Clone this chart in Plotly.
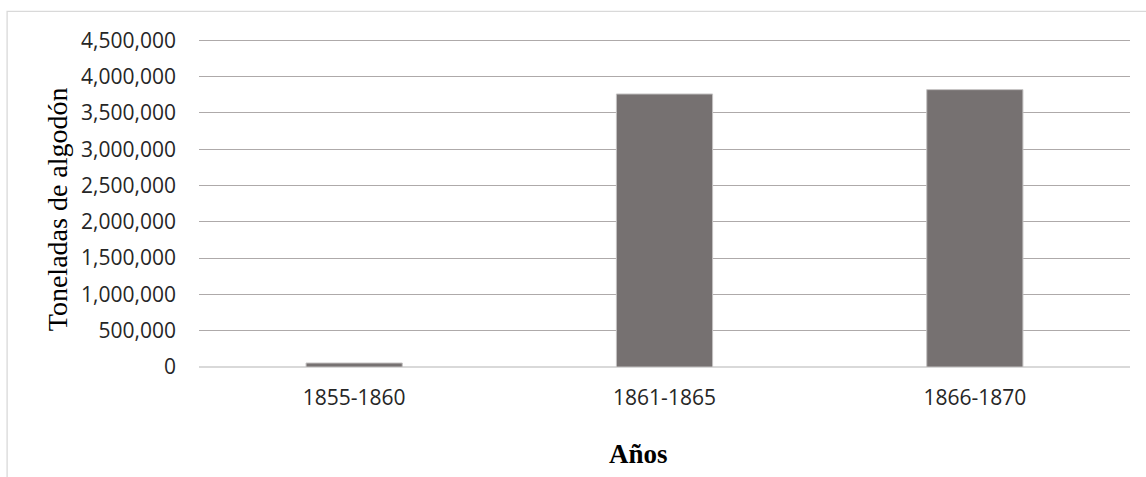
import plotly.graph_objects as go

# Cotton tonnage by period
periods = ["1855-1860", "1861-1865", "1866-1870"]
tonnes = [55000, 3760000, 3820000]
y_ticks = [0, 500000, 1000000, 1500000, 2000000, 2500000, 3000000, 3500000, 4000000, 4500000]
y_tick_text = ["0", "500,000", "1,000,000", "1,500,000", "2,000,000", "2,500,000",
               "3,000,000", "3,500,000", "4,000,000", "4,500,000"]
y_top = 4600000

W, H = 1146, 477
L, R, B = 198.5, 16, 109.5
# keep the 4,500,000 gridline at y = 40.5 px while leaving a little headroom
ph = (H - B - 40.5) * y_top / 4500000
T = H - B - ph
pw = W - L - R


def px_x(px):
    return (px - L) / pw


def px_y(py):
    return (H - B - py) / ph


fig = go.Figure(
    go.Bar(
        x=periods,
        y=tonnes,
        width=0.31,
        marker=dict(color="#767171", line=dict(color="#c4c2c2", width=1)),
    )
)

fig.update_layout(
    width=W,
    height=H,
    margin=dict(l=L, r=R, t=T, b=B),
    paper_bgcolor="white",
    plot_bgcolor="white",
    showlegend=False,
    font=dict(family="Open Sans", size=21, color="#262626"),
    xaxis=dict(
        showgrid=False,
        showline=False,
        zeroline=False,
        ticks="",
        ticklabelstandoff=16,
        tickfont=dict(family="Open Sans", size=21, color="#262626"),
    ),
    yaxis=dict(
        range=[0, y_top],
        tickvals=y_ticks,
        ticktext=y_tick_text,
        showgrid=True,
        gridcolor="#aeaaaa",
        gridwidth=1.4,
        zeroline=True,
        zerolinecolor="#d9d9d9",
        zerolinewidth=1.5,
        showline=False,
        ticks="",
        ticklabelstandoff=22,
        tickfont=dict(family="Open Sans", size=21, color="#262626"),
    ),
    shapes=[
        dict(
            type="rect",
            xref="paper",
            yref="paper",
            x0=px_x(6.5),
            x1=px_x(1160),
            y0=px_y(490),
            y1=px_y(11.5),
            line=dict(color="#d9d9d9", width=1.3),
            fillcolor="rgba(0,0,0,0)",
            layer="below",
        )
    ],
    annotations=[
        dict(
            text="Toneladas de algodón",
            xref="paper",
            yref="paper",
            x=px_x(57),
            y=px_y(210),
            textangle=-90,
            showarrow=False,
            xanchor="center",
            yanchor="middle",
            font=dict(family="Liberation Serif", size=28, color="#000000"),
        ),
        dict(
            text="<b>Años</b>",
            xref="paper",
            yref="paper",
            x=px_x(638),
            y=px_y(455),
            showarrow=False,
            xanchor="center",
            yanchor="middle",
            font=dict(family="Liberation Serif", size=27, color="#000000"),
        ),
    ],
)

fig.write_html("out.html")
